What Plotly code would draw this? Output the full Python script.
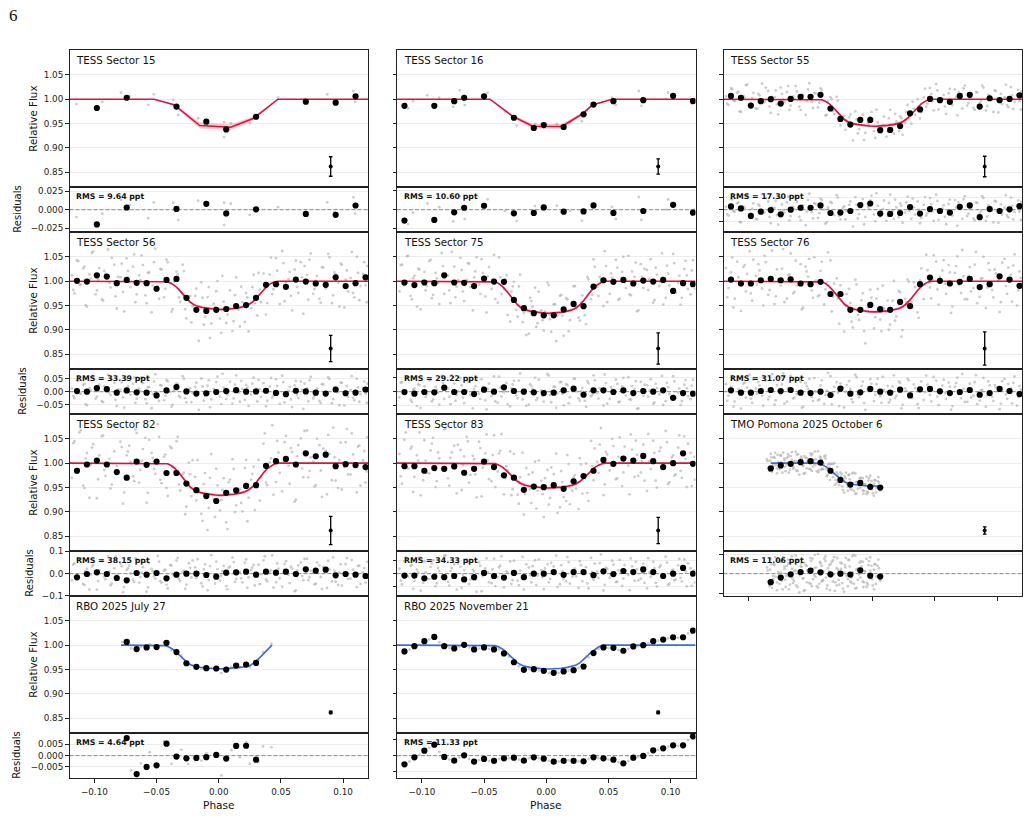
import numpy as np
import plotly.graph_objects as go

W, H = 1030, 818
RED = "#e0103c"
RED_BAND = "rgba(224,16,60,0.22)"
BLUE = "#3a6bdc"
GRAY = "rgba(172,172,172,0.62)"
FONT = "DejaVu Sans"

# ---------------- data ----------------
bin_phase = [-0.114, -0.106, -0.098, -0.090, -0.082, -0.074, -0.066, -0.058, -0.050, -0.042,
             -0.034, -0.026, -0.018, -0.010, -0.002, 0.006, 0.014, 0.022, 0.030, 0.038,
             0.046, 0.054, 0.062, 0.070, 0.078, 0.086, 0.094, 0.102, 0.110, 0.118]

errbar_phase = 0.09
errbar_flux = 0.862

# TESS 15
tess15_flux = [None, None, 0.982, None, None, 1.003, None, None, None, None,
               0.985, None, None, 0.954, None, 0.938, None, None, 0.964, None,
               None, None, None, 0.995, None, None, 0.993, None, 1.006, None]
tess15_resid = [None, None, -0.020, None, None, 0.003, None, None, None, None,
                0.001, None, None, 0.008, None, -0.005, None, None, 0.0005, None,
                None, None, None, -0.0057, None, None, -0.007, None, 0.0057, None]
tess15_model_phase = [-0.12, -0.052, -0.036, -0.0153, 0.0096, 0.0281, 0.0476, 0.12]
tess15_model_flux = [1.0, 1.0, 0.9887, 0.946, 0.9426, 0.961, 1.0, 1.0]
tess15_band = [0, 0, 0.002, 0.006, 0.006, 0.004, 0, 0]
tess15_gray_phase = [-0.1144, -0.0936, -0.0786, -0.0714, -0.0567, -0.0522, -0.0366, -0.0326, -0.0166,
                     0.0043, 0.0043, 0.0096, 0.0249, 0.0476, 0.0872, 0.0931, 0.1083, 0.1097]
tess15_gray_flux = [0.990, 0.9946, 1.0135, 1.0067, 0.9885, 1.010, 0.9987, 0.9676, 0.961,
                    0.9528, 0.9224, 0.9507, 0.9507, 1.0034, 1.010, 0.9966, 1.0169, 0.9946]

# TESS 16
tess16_flux = [0.9865, None, None, 0.9865, None, 0.996, 1.003, None, 1.006, None,
               None, 0.962, None, 0.941, 0.947, None, 0.943, None, 0.969, 0.989,
               None, 0.996, None, None, 0.998, None, None, 1.007, None, 0.996]
tess16_resid = [-0.0143, None, None, -0.0135, None, -0.0035, 0.0026, None, 0.0052, None,
                None, -0.0048, None, -0.0043, 0.003, None, -0.0026, None, -0.0022, 0.0057,
                None, -0.0043, None, None, -0.0017, None, None, 0.0065, None, -0.0039]
tess16_model_phase = [-0.12, -0.0453, -0.027, -0.0109, 0.0125, 0.0289, 0.037, 0.053, 0.12]
tess16_model_flux = [1.0, 1.0, 0.965, 0.9447, 0.944, 0.9696, 0.988, 1.0, 1.0]
tess16_band = [0, 0, 0.003, 0.005, 0.005, 0.003, 0.002, 0, 0]
tess16_gray_phase = [-0.1111, -0.1071, -0.0956, -0.0861, -0.0748, -0.0695, -0.0655, -0.0472, -0.0332,
                     -0.0238, -0.009, 0.0085, 0.0192, 0.0286, 0.0528, 0.056, 0.0744, 0.0765,
                     0.0964, 0.098, 0.1187]
tess16_gray_flux = [0.9811, 0.996, 1.0081, 1.0034, 0.9845, 1.0182, 0.9879, 1.0135, 0.975,
                    0.946, 0.9494, 0.9494, 0.9528, 0.9548, 1.0034, 0.9879, 1.0169, 0.9865,
                    1.0, 1.0135, 1.0]

# shared model phase grid (smooth transit fits)
model_phase = [-0.12, -0.044, -0.041, -0.038, -0.035, -0.032, -0.029, -0.026, -0.023, -0.020,
               -0.017, -0.013, -0.008, -0.003, 0.002, 0.007, 0.012, 0.017, 0.021, 0.024,
               0.027, 0.030, 0.033, 0.036, 0.039, 0.042, 0.045, 0.048, 0.12]
model_band = [0, 0, 0.0005, 0.001, 0.0015, 0.002, 0.0025, 0.003, 0.003, 0.003,
              0.003, 0.003, 0.003, 0.003, 0.003, 0.003, 0.003, 0.003, 0.003, 0.003,
              0.003, 0.003, 0.0025, 0.002, 0.0015, 0.001, 0.0005, 0, 0]

tess55_model = [1.0, 1.0, 0.9989, 0.9956, 0.9906, 0.9834, 0.975, 0.9661, 0.9589, 0.9539,
                0.9506, 0.9484, 0.9464, 0.9451, 0.9445, 0.9451, 0.9464, 0.9484, 0.9506, 0.9539,
                0.9589, 0.9661, 0.975, 0.9834, 0.9906, 0.9956, 0.9989, 1.0, 1.0]
tess56_model = [1.0, 1.0, 0.9988, 0.9954, 0.9901, 0.9826, 0.9739, 0.9646, 0.9571, 0.9519,
                0.9484, 0.9461, 0.944, 0.9426, 0.942, 0.9426, 0.944, 0.9461, 0.9484, 0.9519,
                0.9571, 0.9646, 0.9739, 0.9826, 0.9901, 0.9954, 0.9988, 1.0, 1.0]
tess75_model = [1.0, 1.0, 0.9987, 0.9947, 0.9888, 0.9802, 0.9703, 0.9597, 0.9512, 0.9452,
                0.9413, 0.9386, 0.9363, 0.9347, 0.934, 0.9347, 0.9363, 0.9386, 0.9413, 0.9452,
                0.9512, 0.9597, 0.9703, 0.9802, 0.9888, 0.9947, 0.9987, 1.0, 1.0]
tess76_model = [1.0, 1.0, 0.9987, 0.995, 0.9893, 0.9811, 0.9717, 0.9616, 0.9534, 0.9477,
                0.9439, 0.9414, 0.9392, 0.9376, 0.937, 0.9376, 0.9392, 0.9414, 0.9439, 0.9477,
                0.9534, 0.9616, 0.9717, 0.9811, 0.9893, 0.995, 0.9987, 1.0, 1.0]
tess82_model = [1.0, 1.0, 0.9987, 0.9947, 0.9888, 0.9802, 0.9703, 0.9597, 0.9512, 0.9452,
                0.9413, 0.9386, 0.9363, 0.9347, 0.934, 0.9347, 0.9363, 0.9386, 0.9413, 0.9452,
                0.9512, 0.9597, 0.9703, 0.9802, 0.9888, 0.9947, 0.9987, 1.0, 1.0]
tess83_model = [1.0, 1.0, 0.999, 0.9959, 0.9913, 0.9847, 0.977, 0.9689, 0.9623, 0.9577,
                0.9546, 0.9526, 0.9508, 0.9495, 0.949, 0.9495, 0.9508, 0.9526, 0.9546, 0.9577,
                0.9623, 0.9689, 0.977, 0.9847, 0.9913, 0.9959, 0.999, 1.0, 1.0]
rbo_nov_model = [1.0, 1.0, 0.999, 0.9961, 0.9917, 0.9853, 0.978, 0.9701, 0.9637, 0.9593,
                 0.9564, 0.9544, 0.9527, 0.9515, 0.951, 0.9515, 0.9527, 0.9544, 0.9564, 0.9593,
                 0.9637, 0.9701, 0.978, 0.9853, 0.9917, 0.9961, 0.999, 1.0, 1.0]

# unbinned TESS points: two shared phase sets, residuals per sector
tess_gray_phase_a = [-0.118, -0.116, -0.113, -0.111, -0.108, -0.106, -0.103, -0.101, -0.098, -0.096,
                     -0.093, -0.091, -0.088, -0.086, -0.083, -0.081, -0.078, -0.076, -0.073, -0.071,
                     -0.068, -0.066, -0.063, -0.061, -0.058, -0.056, -0.053, -0.051, -0.048, -0.046,
                     -0.043, -0.041, -0.038, -0.036, -0.033, -0.031, -0.028, -0.026, -0.023, -0.021,
                     -0.018, -0.016, -0.013, -0.011, -0.008, -0.006, -0.003, -0.001, 0.002, 0.004,
                     0.007, 0.009, 0.012, 0.014, 0.017, 0.019, 0.022, 0.024, 0.027, 0.029,
                     0.032, 0.034, 0.037, 0.039, 0.042, 0.044, 0.047, 0.049, 0.052, 0.054,
                     0.057, 0.059, 0.062, 0.064, 0.067, 0.069, 0.072, 0.074, 0.077, 0.079,
                     0.082, 0.084, 0.087, 0.089, 0.092, 0.094, 0.097, 0.099, 0.102, 0.104,
                     0.107, 0.109, 0.112, 0.114, 0.117, 0.119]
tess_gray_phase_b = [-0.117, -0.114, -0.112, -0.109, -0.107, -0.104, -0.102, -0.099, -0.097, -0.094,
                     -0.092, -0.089, -0.087, -0.084, -0.082, -0.079, -0.077, -0.074, -0.072, -0.069,
                     -0.067, -0.064, -0.062, -0.059, -0.057, -0.054, -0.052, -0.049, -0.047, -0.044,
                     -0.042, -0.039, -0.037, -0.034, -0.032, -0.029, -0.027, -0.024, -0.022, -0.019,
                     -0.017, -0.014, -0.012, -0.009, -0.007, -0.004, -0.002, 0.001, 0.003, 0.006,
                     0.008, 0.011, 0.013, 0.016, 0.018, 0.021, 0.023, 0.026, 0.028, 0.031,
                     0.033, 0.036, 0.038, 0.041, 0.043, 0.046, 0.048, 0.051, 0.053, 0.056,
                     0.058, 0.061, 0.063, 0.066, 0.068, 0.071, 0.073, 0.076, 0.078, 0.081,
                     0.083, 0.086, 0.088, 0.091, 0.093, 0.096, 0.098, 0.101, 0.103, 0.106,
                     0.108, 0.111, 0.113, 0.116, 0.118, 0.1195]

tess55_gray_resid_a = [0.006, -0.012, 0.021, -0.004, 0.015, -0.026, 0.003, 0.030, -0.009, 0.013,
                       -0.020, 0.008, -0.001, 0.024, -0.015, 0.005, 0.018, -0.031, 0.011, -0.006,
                       0.027, -0.013, 0.001, 0.016, -0.022, 0.009, -0.004, 0.033, -0.018, 0.012,
                       -0.007, 0.020, -0.029, 0.004, 0.014, -0.011, 0.025, -0.020, 0.007, -0.002,
                       0.017, -0.035, 0.010, -0.009, 0.022, -0.015, 0.002, 0.029, -0.024, 0.008,
                       -0.005, 0.019, -0.013, 0.031, -0.019, 0.005, 0.013, -0.027, 0.015, -0.003,
                       0.023, -0.010, 0.000, -0.017, 0.026, -0.007, 0.011, -0.023, 0.018, -0.001,
                       0.009, -0.030, 0.021, -0.012, 0.004, 0.015, -0.019, 0.028, -0.008, 0.005,
                       -0.022, 0.014, -0.003, 0.024, -0.014, 0.007, -0.026, 0.017, 0.001, -0.010,
                       0.030, -0.016, 0.008, -0.005, 0.019, -0.021]
tess55_gray_resid_b = [-0.009, 0.022, -0.003, 0.013, -0.025, 0.007, 0.029, -0.014, 0.002, -0.019,
                       0.011, 0.032, -0.006, 0.017, -0.028, 0.004, -0.011, 0.024, -0.001, 0.015,
                       -0.022, 0.006, 0.027, -0.015, 0.009, -0.032, 0.020, -0.005, 0.013, -0.017,
                       0.023, 0.000, -0.026, 0.016, -0.008, 0.030, -0.013, 0.003, -0.020, 0.010,
                       -0.004, 0.026, -0.018, 0.012, -0.030, 0.006, 0.019, -0.010, 0.034, -0.014,
                       0.001, -0.023, 0.014, -0.002, 0.021, -0.016, 0.008, -0.006, 0.027, -0.019,
                       0.005, 0.017, -0.028, 0.010, -0.012, 0.024, -0.004, 0.031, -0.021, 0.002,
                       -0.015, 0.012, -0.006, 0.020, -0.033, 0.007, 0.022, -0.013, 0.001, -0.018,
                       0.015, -0.008, 0.028, -0.023, 0.009, -0.002, 0.018, -0.027, 0.011, 0.004,
                       -0.012, 0.025, -0.020, 0.008, -0.004, 0.016]
tess56_gray_resid_a = [0.012, -0.025, 0.041, -0.008, 0.030, -0.052, 0.005, 0.061, -0.019, 0.027,
                       -0.040, 0.015, -0.003, 0.048, -0.031, 0.009, 0.036, -0.062, 0.021, -0.012,
                       0.055, -0.027, 0.002, 0.033, -0.045, 0.018, -0.009, 0.067, -0.036, 0.024,
                       -0.015, 0.040, -0.058, 0.007, 0.029, -0.022, 0.050, -0.041, 0.013, -0.005,
                       0.035, -0.070, 0.020, -0.018, 0.044, -0.030, 0.004, 0.058, -0.048, 0.016,
                       -0.011, 0.038, -0.026, 0.063, -0.039, 0.010, 0.026, -0.055, 0.031, -0.007,
                       0.046, -0.020, 0.001, -0.035, 0.053, -0.014, 0.022, -0.047, 0.037, -0.002,
                       0.019, -0.060, 0.042, -0.024, 0.008, 0.031, -0.038, 0.057, -0.016, 0.011,
                       -0.044, 0.028, -0.006, 0.049, -0.029, 0.014, -0.052, 0.034, 0.003, -0.021,
                       0.060, -0.033, 0.017, -0.010, 0.039, -0.043]
tess56_gray_resid_b = [-0.018, 0.043, -0.006, 0.026, -0.049, 0.014, 0.058, -0.027, 0.003, -0.037,
                       0.021, 0.065, -0.013, 0.034, -0.056, 0.008, -0.022, 0.047, -0.002, 0.030,
                       -0.043, 0.012, 0.053, -0.029, 0.017, -0.064, 0.039, -0.010, 0.025, -0.033,
                       0.045, -0.001, -0.051, 0.032, -0.016, 0.060, -0.025, 0.006, -0.040, 0.019,
                       -0.008, 0.051, -0.035, 0.023, -0.060, 0.011, 0.037, -0.019, 0.069, -0.028,
                       0.002, -0.046, 0.027, -0.004, 0.042, -0.032, 0.016, -0.011, 0.054, -0.038,
                       0.009, 0.033, -0.056, 0.020, -0.023, 0.048, -0.007, 0.062, -0.041, 0.004,
                       -0.030, 0.024, -0.012, 0.039, -0.067, 0.013, 0.044, -0.026, 0.001, -0.036,
                       0.029, -0.015, 0.056, -0.045, 0.018, -0.003, 0.036, -0.054, 0.022, 0.007,
                       -0.024, 0.050, -0.039, 0.015, -0.008, 0.031]
tess75_gray_resid_a = [-0.021, 0.034, -0.004, 0.052, -0.037, 0.011, 0.026, -0.058, 0.019, -0.010,
                       0.044, -0.028, 0.006, -0.047, 0.031, 0.015, -0.019, 0.060, -0.033, 0.002,
                       0.023, -0.041, 0.037, -0.012, 0.008, 0.049, -0.026, 0.017, -0.064, 0.029,
                       0.004, -0.035, 0.054, -0.017, 0.021, -0.046, 0.012, 0.039, -0.024, 0.066,
                       -0.008, -0.051, 0.027, 0.010, -0.030, 0.043, -0.015, 0.003, 0.058, -0.038,
                       0.018, -0.006, 0.035, -0.049, 0.024, -0.020, 0.047, 0.001, -0.032, 0.014,
                       -0.055, 0.030, -0.011, 0.041, -0.025, 0.007, 0.062, -0.043, 0.016, -0.003,
                       0.028, -0.036, 0.050, -0.014, -0.027, 0.020, 0.038, -0.060, 0.009, 0.025,
                       -0.018, 0.045, -0.039, 0.013, 0.000, -0.048, 0.032, -0.009, 0.056, -0.023,
                       0.011, -0.034, 0.042, -0.016, 0.022, -0.005]
tess75_gray_resid_b = [0.033, -0.009, 0.051, -0.030, 0.006, -0.052, 0.024, 0.001, -0.019, 0.041,
                       -0.035, 0.017, -0.004, 0.058, -0.026, 0.012, -0.045, 0.030, -0.011, 0.048,
                       -0.021, 0.003, 0.036, -0.060, 0.020, -0.007, 0.045, -0.031, 0.010, -0.016,
                       0.055, -0.040, 0.015, -0.002, 0.032, -0.053, 0.026, -0.013, 0.040, -0.028,
                       0.008, -0.047, 0.021, 0.050, -0.022, 0.005, -0.036, 0.063, -0.012, 0.018,
                       -0.058, 0.034, -0.008, 0.027, -0.042, 0.011, 0.046, -0.024, 0.002, -0.033,
                       0.038, -0.017, 0.059, -0.005, 0.013, -0.050, 0.031, -0.026, 0.007, 0.044,
                       -0.038, 0.019, -0.001, 0.052, -0.029, 0.009, -0.062, 0.035, -0.014, 0.023,
                       0.004, -0.044, 0.028, -0.010, 0.057, -0.034, 0.016, -0.020, 0.037, -0.003,
                       -0.048, 0.025, 0.012, -0.027, 0.043, -0.015]
tess76_gray_resid_a = [0.027, -0.014, 0.049, -0.036, 0.008, -0.061, 0.033, 0.015, -0.025, 0.044,
                       -0.007, 0.022, -0.050, 0.039, -0.018, 0.063, -0.031, 0.004, 0.026, -0.043,
                       0.012, 0.057, -0.022, -0.009, 0.035, -0.054, 0.020, 0.046, -0.034, 0.001,
                       -0.028, 0.041, -0.012, 0.068, -0.046, 0.017, -0.004, 0.030, -0.057, 0.024,
                       0.010, -0.038, 0.052, -0.020, 0.036, -0.066, 0.014, 0.029, -0.011, 0.047,
                       -0.040, 0.006, 0.021, -0.029, 0.059, -0.015, 0.032, -0.048, 0.003, 0.040,
                       -0.023, 0.013, -0.059, 0.037, -0.002, 0.025, -0.035, 0.053, -0.017, 0.009,
                       0.043, -0.026, 0.018, -0.052, 0.031, -0.008, 0.064, -0.037, 0.011, -0.021,
                       0.034, -0.045, 0.005, 0.050, -0.013, 0.023, -0.033, 0.016, -0.063, 0.038,
                       -0.010, 0.028, -0.042, 0.055, -0.019, 0.007]
tess76_gray_resid_b = [-0.033, 0.018, -0.054, 0.040, -0.006, 0.029, -0.021, 0.061, -0.040, 0.011,
                       0.035, -0.015, 0.052, -0.028, 0.003, -0.047, 0.024, -0.009, 0.066, -0.036,
                       0.014, -0.025, 0.042, -0.003, -0.058, 0.030, 0.009, -0.019, 0.049, -0.031,
                       0.022, -0.044, 0.004, 0.056, -0.013, 0.034, -0.052, 0.016, -0.001, 0.038,
                       -0.027, 0.061, -0.010, 0.021, -0.041, 0.008, 0.045, -0.034, 0.027, -0.016,
                       0.053, -0.002, -0.039, 0.019, -0.023, 0.036, -0.060, 0.012, 0.047, -0.008,
                       0.026, -0.045, 0.015, -0.030, 0.058, -0.012, 0.003, 0.040, -0.048, 0.022,
                       -0.005, 0.033, -0.065, 0.017, 0.051, -0.024, 0.010, -0.037, 0.029, -0.014,
                       0.060, -0.032, 0.006, -0.055, 0.037, -0.018, 0.024, 0.002, -0.043, 0.046,
                       -0.026, 0.013, 0.032, -0.050, 0.020, -0.004]
tess82_gray_resid_a = [-0.030, 0.045, -0.012, 0.068, -0.051, 0.021, -0.004, 0.039, -0.072, 0.016,
                       0.057, -0.026, 0.009, -0.044, 0.075, -0.018, 0.033, -0.060, 0.024, 0.002,
                       -0.037, 0.062, -0.014, 0.029, -0.081, 0.048, 0.011, -0.022, 0.054, -0.041,
                       0.018, -0.066, 0.036, -0.007, 0.071, -0.033, 0.014, -0.049, 0.026, 0.059,
                       -0.019, 0.005, -0.057, 0.042, -0.028, 0.083, -0.045, 0.020, -0.010, 0.035,
                       -0.070, 0.031, 0.052, -0.024, 0.008, -0.039, 0.064, -0.016, 0.027, -0.053,
                       0.040, -0.003, 0.078, -0.034, 0.015, -0.062, 0.046, -0.020, 0.003, 0.056,
                       -0.042, 0.023, -0.075, 0.037, -0.011, 0.066, -0.029, 0.012, -0.048, 0.050,
                       -0.015, 0.030, -0.064, 0.019, 0.073, -0.036, 0.006, -0.054, 0.043, -0.023,
                       0.061, -0.008, 0.034, -0.046, 0.025, -0.017]
tess82_gray_resid_b = [0.041, -0.020, 0.063, -0.046, 0.010, -0.071, 0.032, 0.002, -0.033, 0.055,
                       -0.014, 0.077, -0.052, 0.024, -0.006, 0.044, -0.083, 0.016, 0.036, -0.027,
                       0.069, -0.040, 0.005, 0.052, -0.061, 0.021, -0.012, 0.080, -0.034, 0.013,
                       -0.050, 0.038, -0.001, 0.059, -0.024, 0.007, -0.068, 0.047, -0.017, 0.028,
                       0.065, -0.043, 0.019, -0.074, 0.034, -0.009, 0.054, -0.031, 0.011, -0.056,
                       0.026, 0.072, -0.037, 0.004, -0.021, 0.049, -0.063, 0.017, 0.039, -0.012,
                       -0.047, 0.060, -0.026, 0.009, 0.082, -0.038, 0.022, -0.058, 0.043, -0.005,
                       0.031, -0.079, 0.014, 0.051, -0.029, 0.067, -0.016, 0.003, -0.045, 0.037,
                       -0.069, 0.025, 0.058, -0.035, 0.012, -0.051, 0.042, -0.008, 0.070, -0.023,
                       0.018, -0.060, 0.036, 0.006, -0.040, 0.053]
tess83_gray_resid_a = [0.019, -0.042, 0.063, -0.011, 0.034, -0.028, 0.005, -0.066, 0.047, -0.020,
                       0.026, 0.052, -0.037, 0.010, -0.015, 0.071, -0.046, 0.022, -0.003, 0.038,
                       -0.055, 0.014, 0.045, -0.024, 0.008, -0.070, 0.031, -0.009, 0.059, -0.033,
                       0.017, -0.048, 0.024, 0.067, -0.018, 0.003, -0.040, 0.050, -0.027, 0.012,
                       -0.061, 0.036, -0.006, 0.029, -0.044, 0.055, -0.013, 0.020, -0.034, 0.042,
                       0.001, -0.052, 0.033, -0.021, 0.064, -0.038, 0.015, -0.010, 0.048, -0.029,
                       0.025, -0.057, 0.007, 0.039, -0.016, 0.074, -0.043, 0.018, -0.005, 0.035,
                       -0.031, 0.053, -0.019, 0.011, -0.064, 0.028, 0.046, -0.026, 0.004, -0.036,
                       0.060, -0.012, 0.021, -0.050, 0.032, -0.002, 0.043, -0.039, 0.016, -0.023,
                       0.057, -0.030, 0.009, 0.040, -0.047, 0.013]
tess83_gray_resid_b = [-0.027, 0.048, -0.008, 0.030, -0.059, 0.016, 0.063, -0.035, 0.005, -0.021,
                       0.040, -0.049, 0.022, -0.012, 0.069, -0.031, 0.011, 0.036, -0.062, 0.027,
                       -0.004, 0.054, -0.040, 0.015, -0.023, 0.044, -0.068, 0.020, 0.006, -0.037,
                       0.058, -0.014, 0.031, -0.053, 0.009, 0.047, -0.025, 0.002, -0.044, 0.065,
                       -0.018, 0.024, -0.034, 0.052, -0.007, 0.014, -0.060, 0.037, -0.021, 0.028,
                       0.070, -0.041, 0.010, -0.030, 0.045, -0.011, 0.019, -0.055, 0.033, -0.002,
                       -0.038, 0.061, -0.024, 0.008, 0.041, -0.065, 0.023, -0.015, 0.050, -0.033,
                       0.013, -0.047, 0.034, -0.005, 0.059, -0.028, 0.017, -0.019, 0.038, -0.057,
                       0.004, 0.046, -0.036, 0.025, -0.011, 0.066, -0.043, 0.012, -0.026, 0.032,
                       -0.016, 0.055, -0.049, 0.021, 0.001, -0.034]

# binned TESS points and their residuals
tess55_flux = [1.0067, 1.003, 0.987, 0.996, 1.000, 0.991, 1.0007, 1.005, 1.005, 1.009,
               0.981, 0.9595, 0.948, 0.9575, 0.9575, 0.9366, 0.937, 0.945, 0.971, 0.979,
               1.0007, 0.998, 0.9946, 1.0067, 1.009, 0.985, 1.002, 0.998, 1.0007, 1.008]
tess55_resid = [0.0068, 0.0027, -0.0128, -0.004, -0.0007, -0.0095, 0.0, 0.004, 0.004, 0.0088,
                -0.0068, -0.006, -0.0027, 0.0095, 0.0128, -0.008, -0.0088, -0.0068, 0.0054, -0.008,
                0.0014, -0.0027, -0.006, 0.006, 0.0088, -0.0155, 0.0014, -0.0027, 0.0007, 0.0074]
tess56_flux = [1.0007, 0.9993, 1.012, 1.0094, 0.996, 1.0027, 0.9966, 0.996, 0.9845, 1.0027,
               1.0047, 0.966, 0.9413, 0.939, 0.9413, 0.943, 0.949, 0.951, 0.966, 0.9926,
               0.994, 0.9885, 1.0034, 0.9993, 0.9953, 0.9926, 1.008, 0.99, 0.996, 1.008]
tess56_resid = [0.0024, 0.0, 0.0134, 0.0098, -0.0037, 0.0049, -0.0024, -0.0037, -0.0146, 0.0049,
                0.018, 0.0012, -0.0073, -0.006, -0.0012, 0.0024, 0.006, 0.0, 0.0012, 0.0037,
                -0.0049, -0.0098, 0.0037, 0.0012, -0.0037, -0.0073, 0.0085, -0.006, -0.0037, 0.0085]
tess75_flux = [0.9973, 0.992, 0.9973, 0.996, 1.012, 0.9973, 0.9966, 0.99, 1.0054, 0.9993,
               0.9987, 0.9615, 0.9447, 0.9345, 0.93, 0.93, 0.942, 0.9534, 0.9487, 0.989,
               1.002, 0.9987, 1.0027, 0.9953, 1.0013, 0.9993, 1.0027, 0.98, 0.996, 0.994]
tess75_resid = [-0.0012, -0.0073, -0.0012, -0.0024, 0.0146, -0.0012, -0.0012, -0.0085, 0.0073, 0.0,
                0.0159, 0.0024, 0.0, -0.0024, -0.0049, -0.0037, 0.0049, 0.011, -0.011, 0.0049,
                0.0049, -0.0012, 0.0049, -0.0049, 0.0024, 0.0, 0.0049, -0.022, -0.0049, -0.0073]
tess76_flux = [1.0034, 0.9953, 0.9953, 1.002, 1.0047, 1.002, 1.004, 0.9953, 0.994, 0.9987,
               0.9737, 0.9737, 0.9413, 0.9413, 0.9514, 0.9426, 0.9413, 0.9575, 0.949, 0.994,
               1.0074, 1.0007, 0.9953, 0.9987, 1.0047, 0.9879, 0.994, 1.0101, 1.0034, 0.9906]
tess76_resid = [0.0049, -0.0037, -0.0037, 0.0024, 0.006, 0.0024, 0.006, -0.0037, -0.0049, 0.0,
                -0.012, 0.011, -0.0073, -0.0024, 0.0098, 0.0, -0.0037, 0.0073, -0.0134, 0.0085,
                0.0098, 0.0012, -0.0049, -0.0012, 0.006, -0.011, -0.0049, 0.0098, 0.0024, -0.0085]
tess82_flux = [0.9845, 0.9973, 1.0054, 0.9973, 0.9818, 0.9703, 1.0034, 0.9966, 1.0034, 0.9798,
               0.9798, 0.9582, 0.9447, 0.9325, 0.9224, 0.9393, 0.944, 0.9534, 0.9548, 0.9946,
               1.004, 1.0088, 0.9973, 1.0202, 1.0142, 1.0175, 0.9939, 0.998, 0.996, 0.992]
tess82_resid = [-0.0164, -0.0015, 0.006, -0.0015, -0.0194, -0.0299, 0.003, -0.0045, 0.003, -0.0209,
                -0.0045, 0.0, 0.0, -0.006, -0.0134, 0.0045, 0.006, 0.009, -0.0045, 0.009,
                0.0045, 0.009, -0.0015, 0.0194, 0.0134, 0.018, -0.0075, -0.0015, -0.0045, -0.0104]
tess83_flux = [0.9939, 0.9939, 0.9845, 0.9899, 0.9885, 0.9933, 0.9804, 0.9885, 1.0034, 0.9919,
               0.975, 0.9703, 0.9453, 0.952, 0.9507, 0.9548, 0.9474, 0.9629, 0.9737, 0.9845,
               1.0067, 0.9987, 1.0094, 1.0054, 1.0148, 1.004, 0.9919, 1.0, 1.0202, 0.9987]
tess83_resid = [-0.0075, -0.0075, -0.018, -0.012, -0.0134, -0.009, -0.0224, -0.0134, 0.003, -0.009,
                -0.015, 0.003, -0.0134, 0.0, 0.0, 0.006, -0.0045, 0.006, 0.006, -0.006,
                0.009, -0.0015, 0.0104, 0.006, 0.0164, 0.006, -0.009, 0.0, 0.0224, 0.0]

# TMO Pomona 2025 October 6
tmo_flux = [None, None, None, None, 0.9892, 0.9953, 0.9987, 1.002, 1.004, 1.0013,
            0.9845, 0.9656, 0.9561, 0.9595, 0.9514, 0.950, None, None, None, None,
            None, None, None, None, None, None, None, None, None, None]
tmo_resid = [None, None, None, None, -0.0108, -0.005, -0.0008, 0.0021, 0.0038, 0.0017,
             -0.0008, 0.0, -0.0012, 0.0042, -0.0025, -0.0037, None, None, None, None,
             None, None, None, None, None, None, None, None, None, None]
tmo_model_phase = [-0.082, -0.070, -0.055, -0.046, -0.043, -0.040, -0.037, -0.034, -0.031, -0.028,
                   -0.025, -0.022, -0.019, -0.015, -0.010, -0.005, 0.0, 0.005]
tmo_model_flux = [1.0, 1.0005, 1.0005, 1.0, 0.9991, 0.9962, 0.992, 0.9859, 0.9789, 0.9713,
                  0.9652, 0.961, 0.9582, 0.9563, 0.9546, 0.9535, 0.953, 0.9532]
tmo_gray_phase_a = [-0.085, -0.083, -0.082, -0.080, -0.079, -0.077, -0.076, -0.074, -0.073, -0.071,
                    -0.070, -0.068, -0.067, -0.065, -0.064, -0.062, -0.061, -0.059, -0.058, -0.056,
                    -0.055, -0.053, -0.052, -0.050, -0.049, -0.047, -0.046, -0.044, -0.043, -0.041,
                    -0.040, -0.038, -0.037, -0.035, -0.034, -0.032, -0.031, -0.029, -0.028, -0.026,
                    -0.025, -0.023, -0.022, -0.020, -0.019, -0.017, -0.016, -0.014, -0.013, -0.011,
                    -0.010, -0.008, -0.007, -0.005, -0.004, -0.002, -0.001, 0.001, 0.002, 0.004,
                    0.005]
tmo_gray_resid_a = [0.008, -0.014, 0.019, -0.003, 0.011, -0.021, 0.002, 0.015, -0.009, 0.006,
                    -0.017, 0.013, -0.001, 0.022, -0.012, 0.004, 0.017, -0.024, 0.009, -0.006,
                    0.014, -0.011, 0.001, 0.020, -0.016, 0.007, -0.004, 0.025, -0.013, 0.010,
                    -0.008, 0.016, -0.019, 0.003, 0.012, -0.010, 0.021, -0.015, 0.005, -0.002,
                    0.013, -0.023, 0.008, -0.007, 0.018, -0.012, 0.002, 0.023, -0.018, 0.006,
                    -0.005, 0.015, -0.011, 0.019, -0.014, 0.004, 0.010, -0.020, 0.012, -0.003,
                    0.007]
tmo_gray_phase_b = [-0.084, -0.0825, -0.081, -0.0795, -0.078, -0.0765, -0.075, -0.0735, -0.072, -0.0705,
                    -0.069, -0.0675, -0.066, -0.0645, -0.063, -0.0615, -0.060, -0.0585, -0.057, -0.0555,
                    -0.054, -0.0525, -0.051, -0.0495, -0.048, -0.0465, -0.045, -0.0435, -0.042, -0.0405,
                    -0.039, -0.0375, -0.036, -0.0345, -0.033, -0.0315, -0.030, -0.0285, -0.027, -0.0255,
                    -0.024, -0.0225, -0.021, -0.0195, -0.018, -0.0165, -0.015, -0.0135, -0.012, -0.0105,
                    -0.009, -0.0075, -0.006, -0.0045, -0.003, -0.0015, 0.0, 0.0015, 0.003, 0.0045,
                    0.006]
tmo_gray_resid_b = [-0.010, 0.005, -0.018, 0.012, -0.004, 0.017, -0.013, 0.001, 0.021, -0.008,
                    0.010, -0.020, 0.014, -0.006, 0.003, -0.015, 0.018, -0.002, 0.009, -0.022,
                    0.011, 0.004, -0.012, 0.016, -0.007, 0.024, -0.016, 0.002, 0.013, -0.009,
                    0.019, -0.005, 0.007, -0.021, 0.015, -0.001, -0.011, 0.020, -0.014, 0.006,
                    -0.019, 0.011, -0.003, 0.017, -0.010, 0.022, -0.013, 0.005, -0.008, 0.014,
                    0.009, -0.017, 0.003, -0.012, 0.016, -0.006, -0.015, 0.012, -0.004, 0.018,
                    -0.009]
tmo_gray_phase_c = [-0.0845, -0.083, -0.0815, -0.080, -0.0785, -0.077, -0.0755, -0.074, -0.0725, -0.071,
                    -0.0695, -0.068, -0.0665, -0.065, -0.0635, -0.062, -0.0605, -0.059, -0.0575, -0.056,
                    -0.0545, -0.053, -0.0515, -0.050, -0.0485, -0.047, -0.0455, -0.044, -0.0425, -0.041,
                    -0.0395, -0.038, -0.0365, -0.035, -0.0335, -0.032, -0.0305, -0.029, -0.0275, -0.026,
                    -0.0245, -0.023, -0.0215, -0.020, -0.0185, -0.017, -0.0155, -0.014, -0.0125, -0.011,
                    -0.0095, -0.008, -0.0065, -0.005, -0.0035, -0.002, -0.0005, 0.001, 0.0025, 0.004,
                    0.0055]
tmo_gray_resid_c = [0.004, -0.016, 0.012, -0.007, 0.021, -0.011, 0.000, 0.016, -0.020, 0.009,
                    -0.003, 0.018, -0.014, 0.006, -0.009, 0.023, -0.017, 0.002, 0.013, -0.006,
                    -0.021, 0.010, 0.005, -0.013, 0.019, -0.002, 0.008, -0.018, 0.015, -0.010,
                    0.003, 0.022, -0.015, 0.011, -0.004, 0.017, -0.022, 0.007, -0.008, 0.014,
                    -0.012, 0.001, 0.020, -0.016, 0.009, -0.005, 0.024, -0.019, 0.006, -0.001,
                    0.016, -0.010, 0.003, -0.017, 0.011, 0.021, -0.007, 0.005, -0.013, 0.010,
                    -0.002]

# RBO 2025 July 27
rbo_jul_flux = [None, None, None, None, None, 1.0067, 0.9919, 0.9953, 0.996, 1.0047,
                0.9858, 0.9629, 0.9555, 0.9528, 0.9521, 0.950, 0.9582, 0.9602, 0.9636, None,
                None, None, None, None, None, None, None, None, None, None]
rbo_jul_resid = [None, None, None, None, None, 0.0078, -0.0082, -0.005, -0.0043, 0.0053,
                 -0.0004, -0.0012, -0.001, -0.0007, 0.0003, -0.0013, 0.0043, 0.0044, -0.0018, None,
                 None, None, None, None, None, None, None, None, None, None]
rbo_jul_model_phase = [-0.0786, -0.060, -0.046, -0.043, -0.040, -0.037, -0.034, -0.031, -0.028, -0.025,
                       -0.022, -0.019, -0.015, -0.010, -0.005, 0.0, 0.005, 0.010, 0.015, 0.020,
                       0.025, 0.029, 0.033, 0.036, 0.039, 0.0428]
rbo_jul_model_flux = [1.0, 1.0, 1.0, 0.999, 0.9961, 0.9917, 0.9853, 0.978, 0.970, 0.9635,
                      0.959, 0.9565, 0.9545, 0.9532, 0.952, 0.9515, 0.9515, 0.9525, 0.954, 0.9555,
                      0.958, 0.965, 0.9745, 0.983, 0.991, 1.0]
rbo_jul_gray_phase = [-0.0775, -0.0705, -0.0625, -0.0555, -0.0499, -0.0439, -0.038, -0.030, -0.0246, -0.0139,
                      -0.0099, 0.0021, 0.0102, 0.0169, 0.0222, 0.0249, 0.0321, 0.0356, 0.0423]
rbo_jul_gray_resid = [0.006, -0.0065, -0.0035, 0.0015, -0.0046, 0.0063, -0.0037, 0.0026, -0.0037, -0.0022,
                      0.001, -0.0088, 0.0025, -0.0007, 0.0059, -0.0037, -0.0026, 0.0041, 0.0037]

# RBO 2025 November 21
rbo_nov_flux = [0.9872, 0.998, 1.0081, 1.0169, 0.998, 0.9933, 1.0007, 0.9912, 0.9953, 0.9912,
                0.9831, 0.9649, 0.9494, 0.9507, 0.9474, 0.9433, 0.946, 0.9487, 0.9561, 0.9838,
                0.9953, 0.9946, 0.9885, 0.9973, 1.0, 1.0081, 1.0115, 1.0162, 1.0162, 1.0297]
rbo_nov_resid = [-0.0133, -0.0026, 0.0077, 0.0169, -0.002, -0.0077, 0.0005, -0.0092, -0.0051, -0.0082,
                 -0.0041, -0.0031, -0.0077, -0.0026, -0.0046, -0.0092, -0.0082, -0.0082, -0.0087, -0.0026,
                 -0.0041, -0.0062, -0.0118, -0.0031, -0.0005, 0.0082, 0.0113, 0.0159, 0.0159, 0.0297]
rbo_nov_gray_phase = [-0.110, -0.102, -0.094, -0.086, -0.078, -0.070, -0.062, -0.054, -0.046, -0.038,
                      -0.030, -0.022, -0.014, -0.006, 0.002, 0.010, 0.018, 0.026, 0.034, 0.042,
                      0.050, 0.058, 0.066, 0.074, 0.082, 0.090, 0.098, 0.106, 0.114]
rbo_nov_gray_resid = [-0.009, 0.001, 0.012, 0.006, -0.006, -0.003, -0.005, -0.007, -0.008, -0.005,
                      -0.004, -0.006, -0.004, -0.004, -0.008, -0.009, -0.007, -0.009, -0.005, -0.004,
                      -0.006, -0.010, -0.008, -0.002, 0.004, 0.009, 0.014, 0.015, 0.024]

M = "\u2212"
TG = tess_gray_phase_a + tess_gray_phase_b
panels = [
    dict(title="TESS Sector 15", col=0, row=0, flux=tess15_flux, resid=tess15_resid,
         mph=tess15_model_phase, mfl=tess15_model_flux, band=tess15_band, color=RED,
         gph=tess15_gray_phase, gfl=tess15_gray_flux, gres=None, err=0.020,
         rms="RMS = 9.64 ppt", rlim=0.031, rticks=[-0.025, 0, 0.025],
         rtext=[M + "0.025", "0.000", "0.025"], bottom=None),
    dict(title="TESS Sector 16", col=1, row=0, flux=tess16_flux, resid=tess16_resid,
         mph=tess16_model_phase, mfl=tess16_model_flux, band=tess16_band, color=RED,
         gph=tess16_gray_phase, gfl=tess16_gray_flux, gres=None, err=0.0155,
         rms="RMS = 10.60 ppt", rlim=0.030, rticks=[-0.025, 0, 0.025], rtext=None, bottom=None),
    dict(title="TESS Sector 55", col=2, row=0, flux=tess55_flux, resid=tess55_resid,
         mph=model_phase, mfl=tess55_model, band=model_band, color=RED,
         gph=TG, gfl=None, gres=tess55_gray_resid_a + tess55_gray_resid_b, err=0.021,
         rms="RMS = 17.30 ppt", rlim=0.047, rticks=[-0.025, 0, 0.025], rtext=None, bottom=None),
    dict(title="TESS Sector 56", col=0, row=1, flux=tess56_flux, resid=tess56_resid,
         mph=model_phase, mfl=tess56_model, band=model_band, color=RED,
         gph=TG, gfl=None, gres=tess56_gray_resid_a + tess56_gray_resid_b, err=0.027,
         rms="RMS = 33.39 ppt", rlim=0.088, rticks=[-0.05, 0, 0.05],
         rtext=[M + "0.05", "0.00", "0.05"], bottom=None),
    dict(title="TESS Sector 75", col=1, row=1, flux=tess75_flux, resid=tess75_resid,
         mph=model_phase, mfl=tess75_model, band=model_band, color=RED,
         gph=TG, gfl=None, gres=tess75_gray_resid_a + tess75_gray_resid_b, err=0.032,
         rms="RMS = 29.22 ppt", rlim=0.082, rticks=[-0.05, 0, 0.05], rtext=None, bottom=None),
    dict(title="TESS Sector 76", col=2, row=1, flux=tess76_flux, resid=tess76_resid,
         mph=model_phase, mfl=tess76_model, band=model_band, color=RED,
         gph=TG, gfl=None, gres=tess76_gray_resid_a + tess76_gray_resid_b, err=0.034,
         rms="RMS = 31.07 ppt", rlim=0.082, rticks=[-0.05, 0, 0.05], rtext=None, bottom=None),
    dict(title="TESS Sector 82", col=0, row=2, flux=tess82_flux, resid=tess82_resid,
         mph=model_phase, mfl=tess82_model, band=model_band, color=RED,
         gph=TG, gfl=None, gres=tess82_gray_resid_a + tess82_gray_resid_b, err=0.029,
         rms="RMS = 38.15 ppt", rlim=0.102, rticks=[-0.1, 0, 0.1],
         rtext=[M + "0.1", "0.0", "0.1"], bottom=None),
    dict(title="TESS Sector 83", col=1, row=2, flux=tess83_flux, resid=tess83_resid,
         mph=model_phase, mfl=tess83_model, band=model_band, color=RED,
         gph=TG, gfl=None, gres=tess83_gray_resid_a + tess83_gray_resid_b, err=0.027,
         rms="RMS = 34.33 ppt", rlim=0.088, rticks=[-0.05, 0, 0.05], rtext=None, bottom=None),
    dict(title="TMO Pomona 2025 October 6", col=2, row=2, flux=tmo_flux, resid=tmo_resid,
         mph=tmo_model_phase, mfl=tmo_model_flux, band=None, color=BLUE,
         gph=tmo_gray_phase_a + tmo_gray_phase_b + tmo_gray_phase_c, gfl=None,
         gres=tmo_gray_resid_a + tmo_gray_resid_b + tmo_gray_resid_c, err=0.0074,
         rms="RMS = 11.06 ppt", rlim=0.029, rticks=[-0.025, 0, 0.025], rtext=None, bottom="ticks"),
    dict(title="RBO 2025 July 27", col=0, row=3, flux=rbo_jul_flux, resid=rbo_jul_resid,
         mph=rbo_jul_model_phase, mfl=rbo_jul_model_flux, band=None, color=BLUE,
         gph=rbo_jul_gray_phase, gfl=None, gres=rbo_jul_gray_resid, err=0.0025,
         rms="RMS = 4.64 ppt", rlim=0.0101, rticks=[-0.005, 0, 0.005],
         rtext=[M + "0.005", "0.000", "0.005"], bottom="labels"),
    dict(title="RBO 2025 November 21", col=1, row=3, flux=rbo_nov_flux, resid=rbo_nov_resid,
         mph=model_phase, mfl=rbo_nov_model, band=None, color=BLUE,
         gph=rbo_nov_gray_phase, gfl=None, gres=rbo_nov_gray_resid, err=0.0025,
         rms="RMS = 11.33 ppt", rlim=0.035, rticks=[-0.025, 0, 0.025], rtext=None, bottom="labels"),
]

flux_ticks = [0.85, 0.90, 0.95, 1.00, 1.05]
flux_ticktext = ["0.85", "0.90", "0.95", "1.00", "1.05"]
phase_ticks = [-0.10, -0.05, 0.0, 0.05, 0.10]
phase_ticktext = [M + "0.10", M + "0.05", "0.00", "0.05", "0.10"]
phase_range = [-0.12, 0.12]
flux_range = [0.82, 1.10]

# ---------------- geometry (px) ----------------
col_px = [(69.5, 368.0), (397.0, 695.5), (723.5, 1022.0)]
row_top = [47, 231, 415, 599]
MAIN_H, RES_H = 138, 46
res_label_x = [18, 23, 30, 17]


def axn(n, k):
    return f"{k}axis" if n == 1 else f"{k}axis{n}"


def ref(n, k):
    return k if n == 1 else f"{k}{n}"


common = dict(showline=True, linecolor="#222", linewidth=1, mirror=True, zeroline=False,
              tickwidth=1, tickcolor="#222", ticklen=3.5,
              tickfont=dict(family=FONT, size=8.8, color="#222"))

fig = go.Figure()
layout = {}
ann = []

for i, p in enumerate(panels):
    m, r = 2 * i + 1, 2 * i + 2
    x0, x1 = col_px[p["col"]]
    top = row_top[p["row"]]
    xd = [x0 / W, x1 / W]
    yd_main = [1 - (top + MAIN_H) / H, 1 - top / H]
    yd_res = [1 - (top + MAIN_H + RES_H) / H, 1 - (top + MAIN_H) / H]

    mph = np.array(p["mph"], dtype=float)
    mfl = np.array(p["mfl"], dtype=float)

    gph = np.array(p["gph"], dtype=float)
    if p["gfl"] is not None:
        gfl = np.array(p["gfl"], dtype=float)
        n = min(len(gph), len(gfl))
        gph, gfl = gph[:n], gfl[:n]
        gres = gfl - np.interp(gph, mph, mfl)
    else:
        gres = np.array(p["gres"], dtype=float)
        n = min(len(gph), len(gres))
        gph, gres = gph[:n], gres[:n]
        gfl = np.interp(gph, mph, mfl) + gres

    xm, ym, xr, yr = ref(m, "x"), ref(m, "y"), ref(r, "x"), ref(r, "y")

    # main panel
    fig.add_trace(go.Scatter(x=gph, y=gfl, mode="markers", xaxis=xm, yaxis=ym,
                             marker=dict(size=2.8, color=GRAY), hoverinfo="skip", showlegend=False))
    if p["band"] is not None:
        b = np.array(p["band"], dtype=float)
        fig.add_trace(go.Scatter(x=np.concatenate([mph, mph[::-1]]),
                                 y=np.concatenate([mfl + b, (mfl - b)[::-1]]),
                                 fill="toself", fillcolor=RED_BAND, line=dict(width=0),
                                 mode="lines", xaxis=xm, yaxis=ym, hoverinfo="skip", showlegend=False))
    fig.add_trace(go.Scatter(x=mph, y=mfl, mode="lines", line=dict(color=p["color"], width=1.6),
                             xaxis=xm, yaxis=ym, hoverinfo="skip", showlegend=False))
    fig.add_trace(go.Scatter(x=bin_phase, y=p["flux"], mode="markers", xaxis=xm, yaxis=ym,
                             marker=dict(size=6.2, color="black"), showlegend=False))
    fig.add_trace(go.Scatter(x=[errbar_phase], y=[errbar_flux], mode="markers", xaxis=xm, yaxis=ym,
                             marker=dict(size=4, color="black"),
                             error_y=dict(type="data", array=[p["err"]], visible=True,
                                          color="black", thickness=1.3, width=1.8),
                             showlegend=False))

    # residual panel
    fig.add_trace(go.Scatter(x=phase_range, y=[0, 0], mode="lines", xaxis=xr, yaxis=yr,
                             line=dict(color="#8a8a8a", width=1, dash="4px,2px"),
                             hoverinfo="skip", showlegend=False))
    fig.add_trace(go.Scatter(x=gph, y=gres, mode="markers", xaxis=xr, yaxis=yr,
                             marker=dict(size=2.8, color=GRAY), hoverinfo="skip", showlegend=False))
    fig.add_trace(go.Scatter(x=bin_phase, y=p["resid"], mode="markers", xaxis=xr, yaxis=yr,
                             marker=dict(size=6.2, color="black"), showlegend=False))

    # axes
    layout[axn(m, "x")] = dict(common, domain=xd, range=phase_range, anchor=ym,
                               ticks="", showticklabels=False, showgrid=False)
    layout[axn(m, "y")] = dict(common, domain=yd_main, range=flux_range, anchor=xm,
                               ticks="outside", tickvals=flux_ticks, ticktext=flux_ticktext,
                               showticklabels=(p["col"] == 0), showgrid=True,
                               gridcolor="#ececec", gridwidth=1)
    xr_ax = dict(common, domain=xd, range=phase_range, anchor=yr, showgrid=False)
    if p["bottom"] is None:
        xr_ax.update(ticks="", showticklabels=False)
    else:
        xr_ax.update(ticks="outside", tickvals=phase_ticks, ticktext=phase_ticktext,
                     showticklabels=(p["bottom"] == "labels"), ticklabelstandoff=2)
    layout[axn(r, "x")] = xr_ax
    yr_ax = dict(common, domain=yd_res, range=[-p["rlim"], p["rlim"]], anchor=xr,
                 ticks="outside", tickvals=p["rticks"], showgrid=True,
                 gridcolor="#ececec", gridwidth=1)
    if p["rtext"] is not None:
        yr_ax.update(ticktext=p["rtext"], showticklabels=True)
    else:
        yr_ax.update(showticklabels=False)
    layout[axn(r, "y")] = yr_ax

    # texts
    ann.append(dict(text=p["title"], x=(x0 + 4.5) / W, y=1 - (top + 10) / H, xref="paper", yref="paper",
                    xanchor="left", yanchor="middle", showarrow=False,
                    font=dict(family=FONT, size=10.3, color="#111")))
    ann.append(dict(text="<b>" + p["rms"] + "</b>", x=(x0 + 4.5) / W, y=1 - (top + MAIN_H + 9.5) / H,
                    xref="paper", yref="paper", xanchor="left", yanchor="middle", showarrow=False,
                    font=dict(family=FONT, size=7.8, color="#111")))
    if p["col"] == 0:
        ann.append(dict(text="Relative Flux", x=33 / W, y=1 - (top + MAIN_H / 2) / H, xref="paper",
                        yref="paper", textangle=-90, showarrow=False, xanchor="center", yanchor="middle",
                        font=dict(family=FONT, size=10.3, color="#111")))
        ann.append(dict(text="Residuals", x=res_label_x[p["row"]] / W, y=1 - (top + MAIN_H + RES_H / 2) / H,
                        xref="paper", yref="paper", textangle=-90, showarrow=False,
                        xanchor="center", yanchor="middle",
                        font=dict(family=FONT, size=10, color="#111")))
    if p["bottom"] == "labels":
        ann.append(dict(text="Phase", x=(x0 + x1) / 2 / W, y=1 - 810 / H, xref="paper", yref="paper",
                        xanchor="center", yanchor="middle", showarrow=False, borderpad=0,
                        font=dict(family=FONT, size=10.6, color="#111")))

ann.append(dict(text="6", x=13 / W, y=1 - 12 / H, xref="paper", yref="paper", xanchor="center",
                yanchor="middle", showarrow=False, font=dict(family="Liberation Serif", size=17, color="#111")))

fig.update_layout(width=W, height=H, margin=dict(l=0, r=0, t=0, b=0), autosize=False,
                  paper_bgcolor="white", plot_bgcolor="white", showlegend=False,
                  annotations=ann, **layout)

fig.write_html("out.html")
